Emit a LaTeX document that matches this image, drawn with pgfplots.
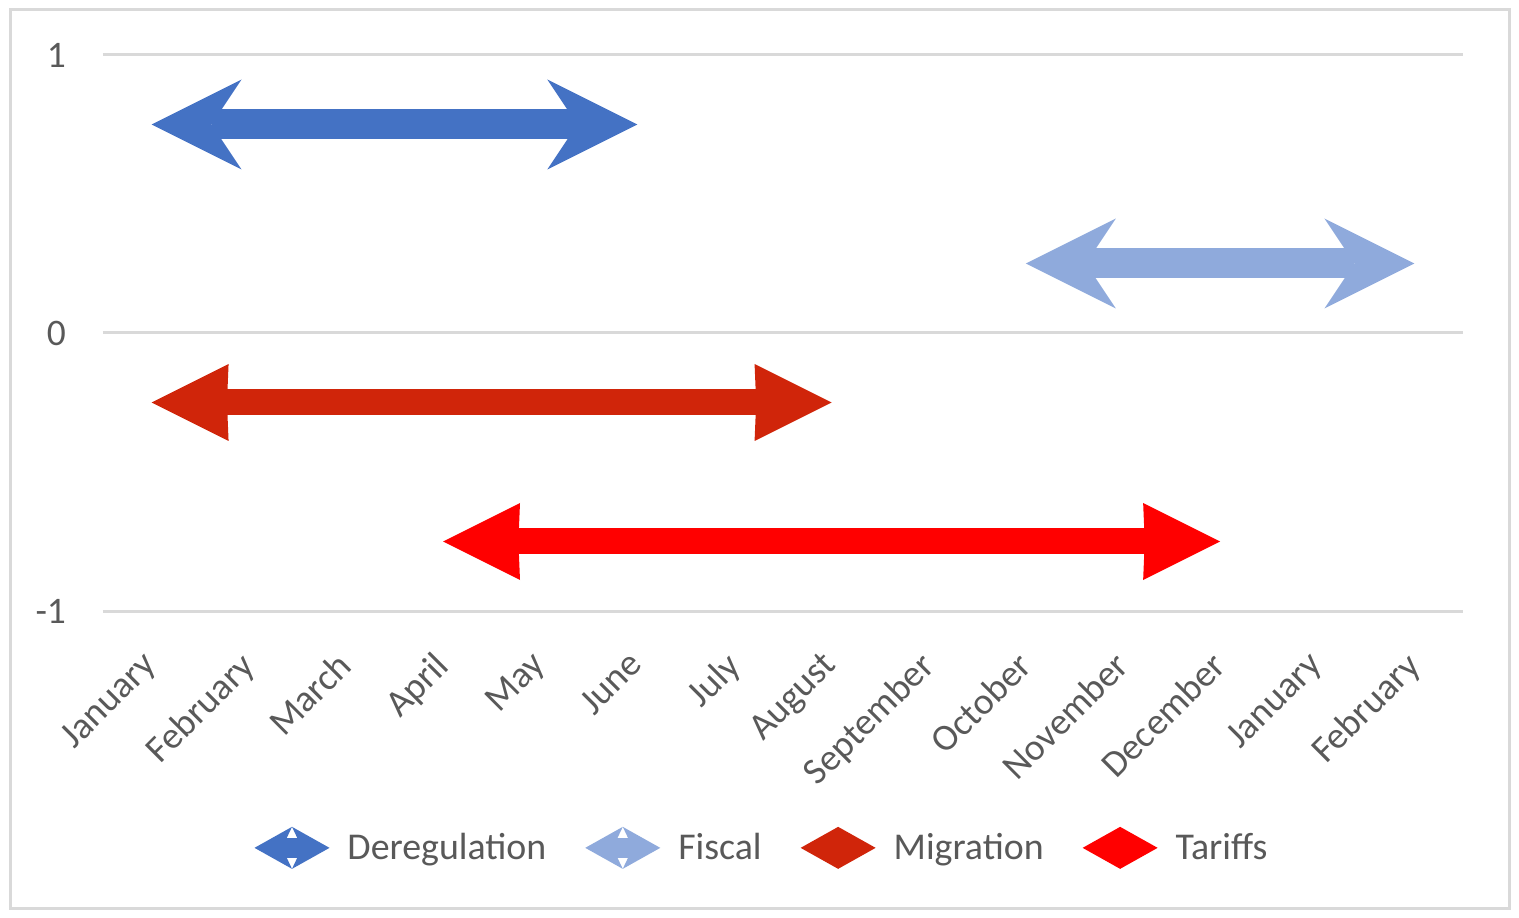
\documentclass[border=0pt]{standalone}
\usepackage{pgfplots}
\pgfplotsset{compat=1.18}
\usetikzlibrary{arrows.meta}
\usepackage{fontspec}
\setmainfont{Carlito}
\definecolor{dereg}{HTML}{4472C4}
\definecolor{fisc}{HTML}{8FAADC}
\definecolor{migr}{HTML}{D0250A}
\definecolor{tarf}{HTML}{FF0000}
\definecolor{txt}{HTML}{595959}
\definecolor{gridc}{HTML}{D9D9D9}
\tikzset{
  bigstealth/.tip={Stealth[length=45bp,width=45bp,inset=15bp,line width=0pt]},
  bigtri/.tip={Stealth[length=38.5bp,width=38.5bp,inset=0.8bp,line width=0pt]},
  smstealth/.tip={Stealth[length=18.75bp,width=21bp,inset=5bp,line width=0pt]},
  smtri/.tip={Stealth[length=18.75bp,width=21bp,inset=0.5bp,line width=0pt]},
}
\newcommand{\legstealth}[1]{\path[draw=none,fill=none] (0bp,-10.5bp) rectangle (44.5bp,10.5bp);\draw[#1, fill=none, overlay, line width=10bp, smstealth-smstealth] (0bp,0bp) -- (37.5bp,0bp);}
\newcommand{\legtri}[1]{\path[draw=none,fill=none] (0bp,-10.5bp) rectangle (44.5bp,10.5bp);\draw[#1, fill=none, overlay, line width=20bp, smtri-smtri] (0bp,0bp) -- (37.5bp,0bp);}
\begin{document}
\begin{tikzpicture}
\useasboundingbox (0,0) rectangle (759.5bp,459bp);
\draw[gridc, line width=1.5bp] (5bp,4.5bp) rectangle (754.5bp,454bp);
\begin{axis}[
  at={(51.5bp,153.5bp)}, anchor=south west,
  scale only axis, width=680bp, height=278bp,
  xmin=-0.5, xmax=13.5, ymin=-1, ymax=1,
  xtick={0,...,13},
  xticklabels={January,February,March,April,May,June,July,August,September,October,November,December,January,February},
  ytick={-1,0,1},
  yticklabels={-1,0,1},
  ymajorgrids, grid style={gridc, line width=1.5bp},
  axis line style={draw=none},
  tick style={draw=none},
  tick label style={font=\fontsize{18.8}{22}\selectfont, text=txt},
  xticklabel style={rotate=45, anchor=north east, xshift=-14bp, yshift=-6.4bp},
  yticklabel style={xshift=-15bp},
  clip=false,
  no markers,
  legend columns=4,
  legend style={at={(0.4853,-0.426)}, anchor=center, draw=none, text=txt,
    font=\fontsize{19}{22}\selectfont,
    /tikz/every even column/.append style={column sep=17.5bp}},
]
\addplot[dereg, line width=15bp, bigstealth-bigstealth,
  legend image code/.code={\legstealth{dereg}}]
  coordinates {(0,0.75) (5,0.75)};
\addlegendentry{Deregulation}
\addplot[fisc, line width=15bp, bigstealth-bigstealth,
  legend image code/.code={\legstealth{fisc}}]
  coordinates {(9,0.25) (13,0.25)};
\addlegendentry{Fiscal}
\addplot[migr, line width=13bp, bigtri-bigtri,
  legend image code/.code={\legtri{migr}}]
  coordinates {(0,-0.25) (7,-0.25)};
\addlegendentry{Migration}
\addplot[tarf, line width=13bp, bigtri-bigtri,
  legend image code/.code={\legtri{tarf}}]
  coordinates {(3,-0.75) (11,-0.75)};
\addlegendentry{Tariffs}
\end{axis}
\end{tikzpicture}
\end{document}
